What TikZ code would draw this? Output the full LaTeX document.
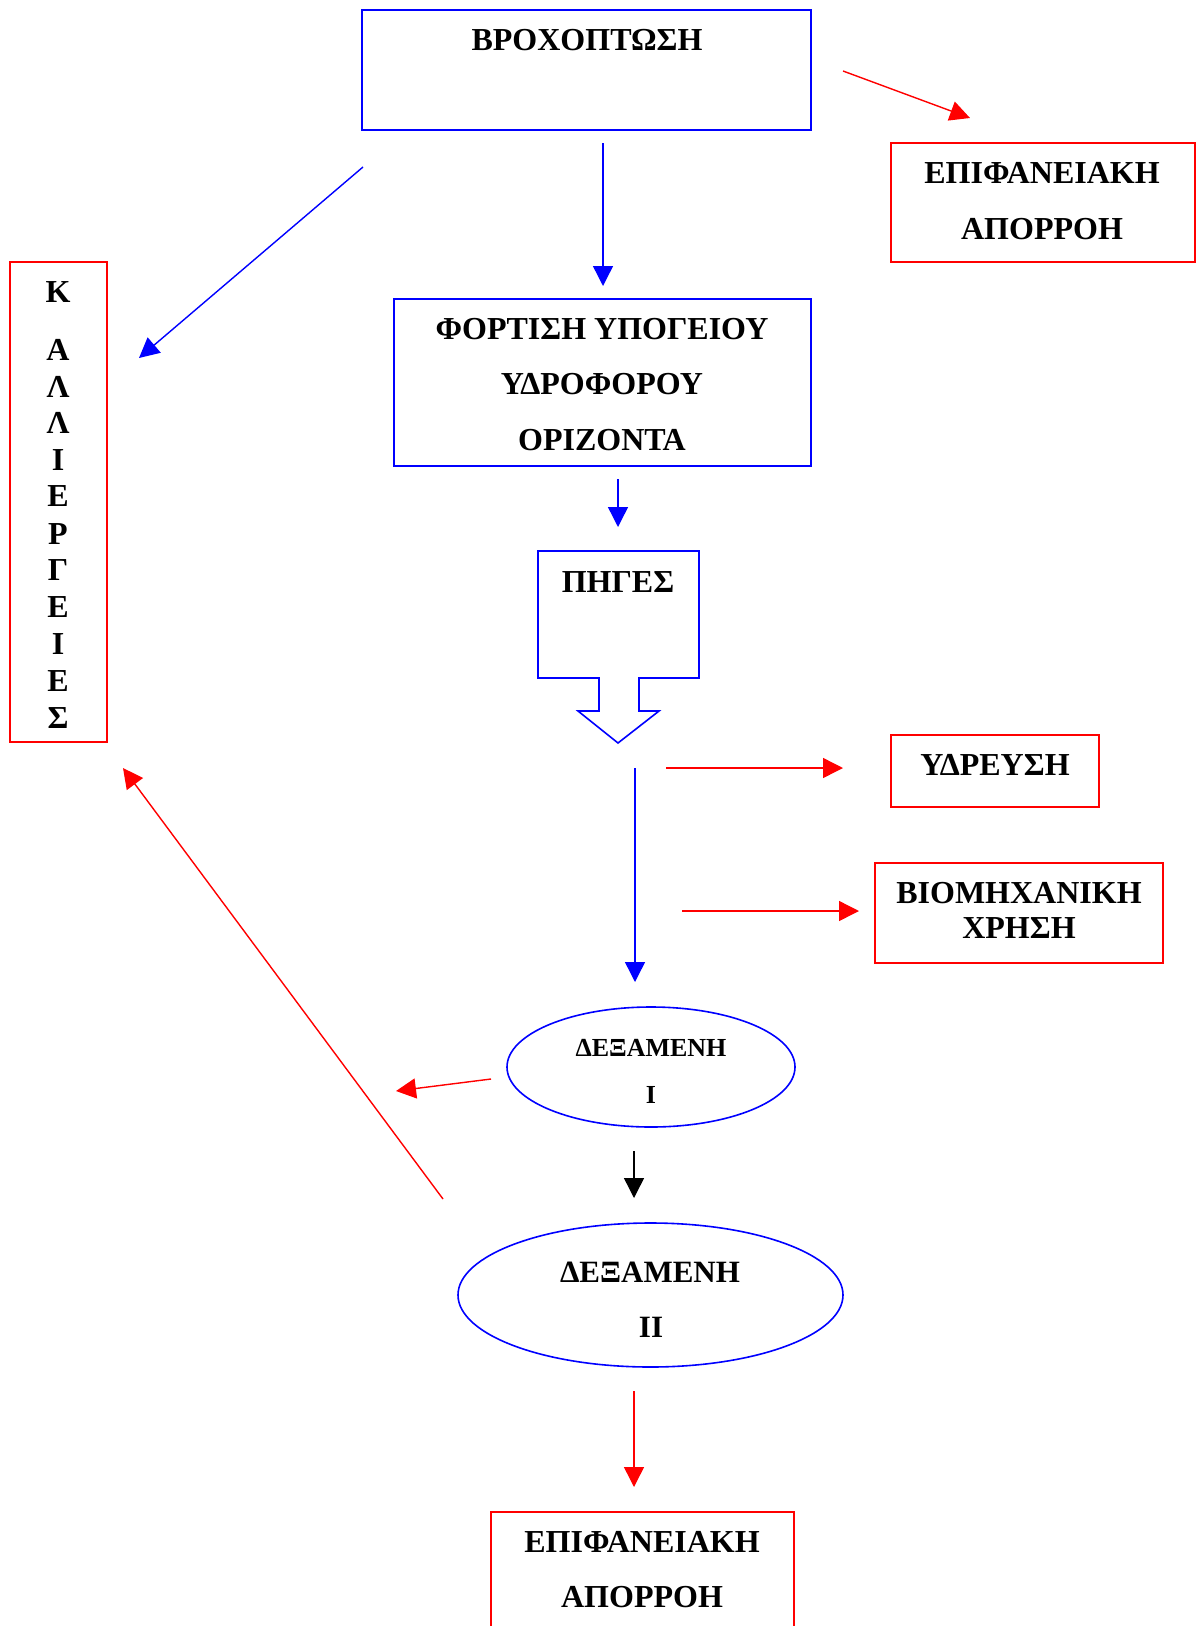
\documentclass[tikz,border=0pt]{standalone}
\usepackage{fontspec}
\setmainfont{Liberation Serif}
\usetikzlibrary{arrows.meta,shapes.geometric}
\begin{document}
\begin{tikzpicture}[x=1bp,y=-1bp,
  bbox/.style={draw=blue, line width=2bp, inner sep=0pt, outer sep=0pt},
  rbox/.style={draw=red, line width=2bp, inner sep=0pt, outer sep=0pt},
  oval/.style={ellipse, draw=blue, line width=1.6bp, inner sep=0pt, outer sep=0pt},
  txt/.style={font=\fontsize{32bp}{38bp}\selectfont\bfseries, text height=21bp, text depth=0pt, inner sep=0pt},
  txts/.style={font=\fontsize{26bp}{30bp}\selectfont\bfseries, text height=17bp, text depth=0pt, inner sep=0pt},
  txtm/.style={font=\fontsize{31bp}{36bp}\selectfont\bfseries, text height=20bp, text depth=0pt, inner sep=0pt},
  conn/.style={line width=1.4bp, -{Triangle[length=20bp,width=20bp]}},
  bconn/.style={conn, draw=blue, fill=blue},
  rconn/.style={conn, draw=red, fill=red},
  kconn/.style={conn, draw=black, fill=black}]
\useasboundingbox (0,0) rectangle (1196,1626);

% boxes
\node[bbox, minimum width=449bp, minimum height=120bp] (rain) at (586.5,70) {};
\node[txt] (raint) at (587,40) {ΒΡΟΧΟΠΤΩΣΗ};

\node[bbox, minimum width=417bp, minimum height=167bp] (rech) at (602.5,382.5) {};
\node[txt] (recht1) at (602,329) {ΦΟΡΤΙΣΗ ΥΠΟΓΕΙΟΥ};
\node[txt] (recht2) at (602,384) {ΥΔΡΟΦΟΡΟΥ};
\node[txt] (recht3) at (602,440) {ΟΡΙΖΟΝΤΑ};

\node[rbox, minimum width=304bp, minimum height=119bp] (surf1) at (1043,202.5) {};
\node[txt] (surf1t1) at (1042,173) {ΕΠΙΦΑΝΕΙΑΚΗ};
\node[txt] (surf1t2) at (1042,229) {ΑΠΟΡΡΟΗ};

\node[rbox, minimum width=208bp, minimum height=72bp] (ydr) at (995,771) {};
\node[txt] (ydrt) at (995,765) {ΥΔΡΕΥΣΗ};

\node[rbox, minimum width=288bp, minimum height=100bp] (ind) at (1019,913) {};
\node[txt] (indt1) at (1019,893) {ΒΙΟΜΗΧΑΝΙΚΗ};
\node[txt] (indt2) at (1019,928) {ΧΡΗΣΗ};

\node[rbox, minimum width=97bp, minimum height=480bp] (kal) at (58.5,502) {};
\foreach \l/\y [count=\i] in {Κ/292, Α/350, Λ/387, Λ/423, Ι/460, Ε/496, Ρ/534, Γ/570, Ε/607, Ι/644, Ε/681, Σ/718}
  \node[txt] (kal\i) at (58,\y) {\l};

% callout ΠΗΓΕΣ
\draw[draw=blue, line width=1.6bp, line join=miter]
  (538,551) -- (699,551) -- (699,678) -- (639,678) -- (639,711) -- (659,711)
  -- (618,743) -- (578,711) -- (599,711) -- (599,678) -- (538,678) -- cycle;
\node[txt] (pig) at (618,582) {ΠΗΓΕΣ};
\coordinate (pigtip) at (618,743);

% reservoirs
\node[oval, minimum width=288bp, minimum height=120bp] (res1) at (651,1067) {};
\node[txts] (res1t1) at (651,1048) {ΔΕΞΑΜΕΝΗ};
\node[txts] (res1t2) at (651,1095) {Ι};

\node[oval, minimum width=385bp, minimum height=144bp] (res2) at (650.5,1295) {};
\node[txtm] (res2t1) at (650,1272) {ΔΕΞΑΜΕΝΗ};
\node[txtm] (res2t2) at (651,1327) {ΙΙ};

\node[rbox, minimum width=303bp, minimum height=128bp] (surf2) at (642.5,1576) {};
\node[txt] (surf2t1) at (642,1542) {ΕΠΙΦΑΝΕΙΑΚΗ};
\node[txt] (surf2t2) at (642,1597) {ΑΠΟΡΡΟΗ};

% connector end points
\coordinate (a1s) at (603,143);  \coordinate (a1e) at (603,286);
\coordinate (a2s) at (363,167);  \coordinate (a2e) at (139,358);
\coordinate (a3s) at (843,71);   \coordinate (a3e) at (970,118);
\coordinate (a4s) at (618,479);  \coordinate (a4e) at (618,527);
\coordinate (a5s) at (635,768);  \coordinate (a5e) at (635,982);
\coordinate (a6s) at (666,768);  \coordinate (a6e) at (843,768);
\coordinate (a7s) at (682,911);  \coordinate (a7e) at (859,911);
\coordinate (a8s) at (491,1079); \coordinate (a8e) at (396,1091);
\coordinate (a9s) at (634,1151); \coordinate (a9e) at (634,1198);
\coordinate (a10s) at (443,1199); \coordinate (a10e) at (123,768);
\coordinate (a11s) at (634,1391); \coordinate (a11e) at (634,1487);

\draw[bconn] (a1s) -- (a1e);
\draw[bconn] (a2s) -- (a2e);
\draw[rconn] (a3s) -- (a3e);
\draw[bconn] (a4s) -- (a4e);
\draw[bconn] (a5s) -- (a5e);
\draw[rconn] (a6s) -- (a6e);
\draw[rconn] (a7s) -- (a7e);
\draw[rconn] (a8s) -- (a8e);
\draw[kconn] (a9s) -- (a9e);
\draw[rconn] (a10s) -- (a10e);
\draw[rconn] (a11s) -- (a11e);
\end{tikzpicture}
\end{document}
